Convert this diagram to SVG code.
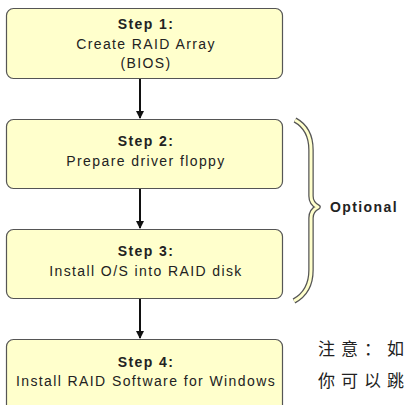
<svg xmlns="http://www.w3.org/2000/svg" width="407" height="405" viewBox="0 0 407 405">
<style>
.box{fill:#ffffcc;stroke:#555;stroke-width:1.2}
.t{font-family:"Liberation Sans",Arial,sans-serif;font-size:14px;fill:#222;text-anchor:middle;letter-spacing:1.4px}
.b{font-weight:bold}
.cn{font-family:"Noto Sans CJK SC",sans-serif;font-size:17px;fill:#222;letter-spacing:6px}
.conn{stroke:#111;stroke-width:2;fill:none}
</style>
<defs>
<marker id="ah" markerWidth="8" markerHeight="8" refX="7" refY="4" orient="auto" markerUnits="userSpaceOnUse">
<path d="M0,0 L8,4 L0,8 Z" fill="#111"/>
</marker>
</defs>
<rect width="407" height="405" fill="#fff"/>
<g id="connectors">
<line class="conn" x1="140" y1="78" x2="140" y2="118" marker-end="url(#ah)"/>
<line class="conn" x1="140" y1="188" x2="140" y2="228" marker-end="url(#ah)"/>
<line class="conn" x1="140" y1="298" x2="140" y2="338" marker-end="url(#ah)"/>
</g>
<g id="step1">
<rect class="box" x="6.5" y="8.5" width="276" height="70" rx="7"/>
<text class="t b" x="146" y="29">Step 1:</text>
<text class="t" x="146" y="49">Create RAID Array</text>
<text class="t" x="146" y="68">(BIOS)</text>
</g>
<g id="step2">
<rect class="box" x="6.5" y="119.5" width="276" height="69" rx="7"/>
<text class="t b" x="146" y="146">Step 2:</text>
<text class="t" x="146" y="166">Prepare driver floppy</text>
</g>
<g id="step3">
<rect class="box" x="6.5" y="229.5" width="276" height="69" rx="7"/>
<text class="t b" x="146" y="256">Step 3:</text>
<text class="t" x="146" y="276">Install O/S into RAID disk</text>
</g>
<g id="step4">
<rect class="box" x="6.5" y="339.5" width="276" height="80" rx="7"/>
<text class="t b" x="146" y="367">Step 4:</text>
<text class="t" x="146" y="386">Install RAID Software for Windows</text>
</g>
<g id="brace">
<path d="M295,120 C306,126 311,136 311,150 L311,196 C311,202 314,205 318,207 C314,209 311,212 311,218 L311,270 C311,285 305,295 294,301" fill="none" stroke="#555" stroke-width="5.5" stroke-linejoin="round"/>
<path d="M295,120 C306,126 311,136 311,150 L311,196 C311,202 314,205 318,207 C314,209 311,212 311,218 L311,270 C311,285 305,295 294,301" fill="none" stroke="#ffffcc" stroke-width="3" stroke-linejoin="round"/>
<text class="t b" x="330" y="212" style="text-anchor:start">Optional</text>
</g>
<g id="note">
<text class="cn" x="318" y="355">注意：如</text>
<text class="cn" x="318" y="387">你可以跳</text>
</g>
</svg>
